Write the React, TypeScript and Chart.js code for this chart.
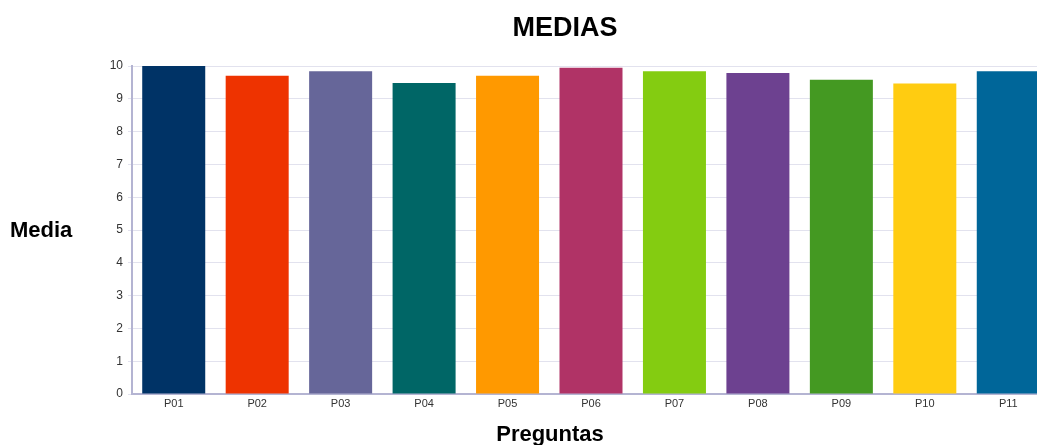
import React, { useEffect, useRef } from "react";
import { Chart, registerables } from "chart.js";

Chart.register(...registerables);

const preguntas = ["P01", "P02", "P03", "P04", "P05", "P06", "P07", "P08", "P09", "P10", "P11"];
const medias = [10.0, 9.7, 9.84, 9.48, 9.7, 9.95, 9.84, 9.79, 9.58, 9.47, 9.84];
const colores = [
  "#003366",
  "#ee3300",
  "#666699",
  "#006666",
  "#ff9900",
  "#b03366",
  "#84cc11",
  "#6d4190",
  "#449922",
  "#ffcc11",
  "#006699",
];
const yTicks = [0, 1, 2, 3, 4, 5, 6, 7, 8, 9, 10];

const FONT = "'Liberation Sans', Arial, sans-serif";

// Title and axis captions drawn at fixed spots on the canvas
const captions = {
  id: "captions",
  afterDraw(chart: Chart) {
    const ctx = chart.ctx;
    ctx.save();
    ctx.fillStyle = "#000";
    ctx.textBaseline = "middle";
    ctx.textAlign = "center";
    ctx.font = `bold 27px ${FONT}`;
    ctx.fillText("MEDIAS", 565, 29);
    ctx.font = `bold 22px ${FONT}`;
    ctx.textAlign = "left";
    ctx.fillText("Media", 10, 231);
    ctx.textAlign = "center";
    ctx.fillText("Preguntas", 550, 435);
    ctx.restore();
  },
};

export default function App() {
  const canvasRef = useRef<HTMLCanvasElement | null>(null);

  useEffect(() => {
    if (!canvasRef.current) return;
    const chart = new Chart(canvasRef.current, {
      type: "bar",
      data: {
        labels: preguntas,
        datasets: [
          {
            data: medias,
            backgroundColor: colores,
            borderWidth: 0,
            categoryPercentage: 1,
            barPercentage: 0.755,
          },
        ],
      },
      options: {
        animation: false,
        responsive: false,
        maintainAspectRatio: false,
        layout: { padding: { top: 66, left: 0, right: 10, bottom: 0 } },
        plugins: {
          legend: { display: false },
          title: { display: false },
          tooltip: { enabled: false },
        },
        scales: {
          x: {
            grid: { display: false, tickLength: 0 },
            border: { color: "#b4b4d2", width: 2 },
            ticks: {
              color: "#333",
              font: { family: FONT, size: 11 },
              padding: 3,
              maxRotation: 0,
            },
            afterFit(scale: any) {
              scale.height = 51;
            },
          },
          y: {
            min: 0,
            max: 10,
            afterBuildTicks(scale: any) {
              scale.ticks = yTicks.map((v) => ({ value: v }));
            },
            grid: { color: "#e2e2ee", lineWidth: 1, tickLength: 4 },
            border: { color: "#b4b4d2", width: 2 },
            ticks: {
              color: "#333",
              font: { family: FONT, size: 12 },
              padding: 5,
            },
            afterFit(scale: any) {
              scale.width = 132;
            },
          },
        },
      },
      plugins: [captions],
    });
    return () => chart.destroy();
  }, []);

  return (
    <div
      style={{
        position: "fixed",
        left: 0,
        top: 0,
        width: 1037,
        height: 445,
        overflow: "hidden",
        background: "#fff",
      }}
    >
      <canvas ref={canvasRef} width={1060} height={445} style={{ display: "block" }} />
    </div>
  );
}
